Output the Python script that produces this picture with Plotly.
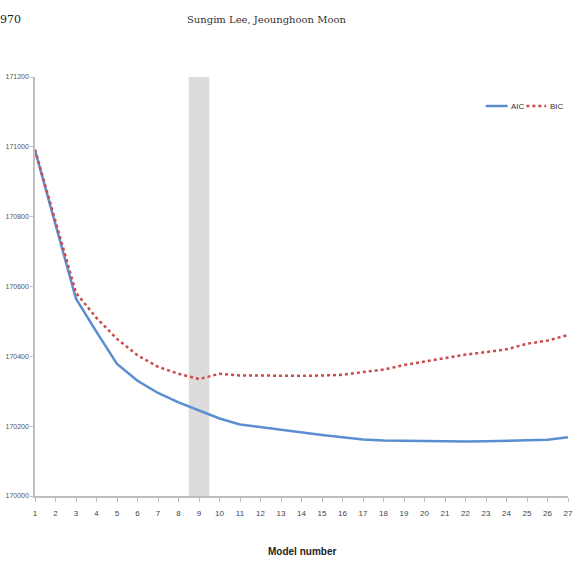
import plotly.graph_objects as go

model = list(range(1, 28))
aic = [170990, 170780, 170565, 170470, 170378, 170330, 170295, 170268, 170245, 170222,
       170205, 170197, 170189, 170182, 170175, 170168, 170162, 170159, 170158, 170156,
       170155, 170156, 170157, 170158, 170159, 170161, 170168]
bic = [170992, 170790, 170582, 170510, 170450, 170403, 170370, 170350, 170335, 170350,
       170345, 170345, 170344, 170344, 170345, 170347, 170355, 170362, 170375, 170385,
       170393, 170405, 170412, 170420, 170436, 170445, 170461]
y_ticks = [170000, 170200, 170400, 170600, 170800, 171000, 171200]
band = [8.5, 9.5]

W, H = 573, 562
L, R, T, B = 35, 0, 77, 66
pw, ph = W - L - R, H - T - B

def px(x):
    return (x - L) / pw

def py(y):
    return (H - B - y) / ph

fig = go.Figure()
fig.add_shape(type="rect", xref="x", yref="paper", x0=band[0], x1=band[1], y0=0, y1=1,
              fillcolor="#dcdcdc", line_width=0, layer="below")
fig.add_trace(go.Scatter(x=model, y=aic, mode="lines", name="AIC",
                         line=dict(color="#5b8ed0", width=2.5)))
fig.add_trace(go.Scatter(x=model, y=bic, mode="lines", name="BIC",
                         line=dict(color="#cc4b4b", width=2.5, dash="dot")))

fig.update_layout(
    width=W, height=H, margin=dict(l=L, r=R, t=T, b=B),
    paper_bgcolor="white", plot_bgcolor="white",
    showlegend=False,
    xaxis=dict(range=[1, 27], tickmode="array", tickvals=model, ticktext=[str(m) for m in model],
               showgrid=False, zeroline=False, showline=True, linecolor="#bfbfbf", linewidth=1.5,
               ticks="outside", ticklen=4, tickcolor="#bfbfbf", ticklabeloverflow="allow",
               ticklabelstandoff=5,
               tickfont=dict(family="Liberation Sans", size=8, color="#444444")),
    yaxis=dict(range=[170000, 171200], tickmode="array", tickvals=y_ticks,
               ticktext=[str(v) for v in y_ticks], ticklabeloverflow="allow",
               showgrid=False, zeroline=False, showline=True, linecolor="#bfbfbf", linewidth=1.5,
               ticks="outside", ticklen=3, tickcolor="#bfbfbf",
               tickfont=dict(family="Liberation Sans", size=7, color="#555555")),
)

# Legend drawn as shapes + text
fig.add_shape(type="line", xref="paper", yref="paper", x0=px(490), x1=px(512), y0=py(106), y1=py(106),
              line=dict(color="#5b8ed0", width=2.5))
fig.add_shape(type="line", xref="paper", yref="paper", x0=px(531), x1=px(551), y0=py(106), y1=py(106),
              line=dict(color="#cc4b4b", width=2.5, dash="dot"))
fig.add_annotation(text="AIC", xref="paper", yref="paper", x=px(513), y=py(106), xanchor="left",
                   yanchor="middle", showarrow=False, font=dict(family="Liberation Sans", size=8, color="#333333"))
fig.add_annotation(text="BIC", xref="paper", yref="paper", x=px(553), y=py(106), xanchor="left",
                   yanchor="middle", showarrow=False, font=dict(family="Liberation Sans", size=8, color="#333333"))

# Axis title
fig.add_annotation(text="<b>Model number</b>", xref="paper", yref="paper", x=px(305), y=py(551),
                   xanchor="center", yanchor="middle", showarrow=False,
                   font=dict(family="Liberation Sans", size=10, color="#222222"))

# Page header
fig.add_annotation(text="970", xref="paper", yref="paper", x=px(-2), y=py(20), xanchor="left",
                   yanchor="middle", showarrow=False,
                   font=dict(family="DejaVu Serif", size=11, color="#222222"))
fig.add_annotation(text="Sungim Lee, Jeounghoon Moon", xref="paper", yref="paper", x=px(269), y=py(20),
                   xanchor="center", yanchor="middle", showarrow=False,
                   font=dict(family="DejaVu Serif", size=10, color="#333333"))

fig.write_html("out.html")
